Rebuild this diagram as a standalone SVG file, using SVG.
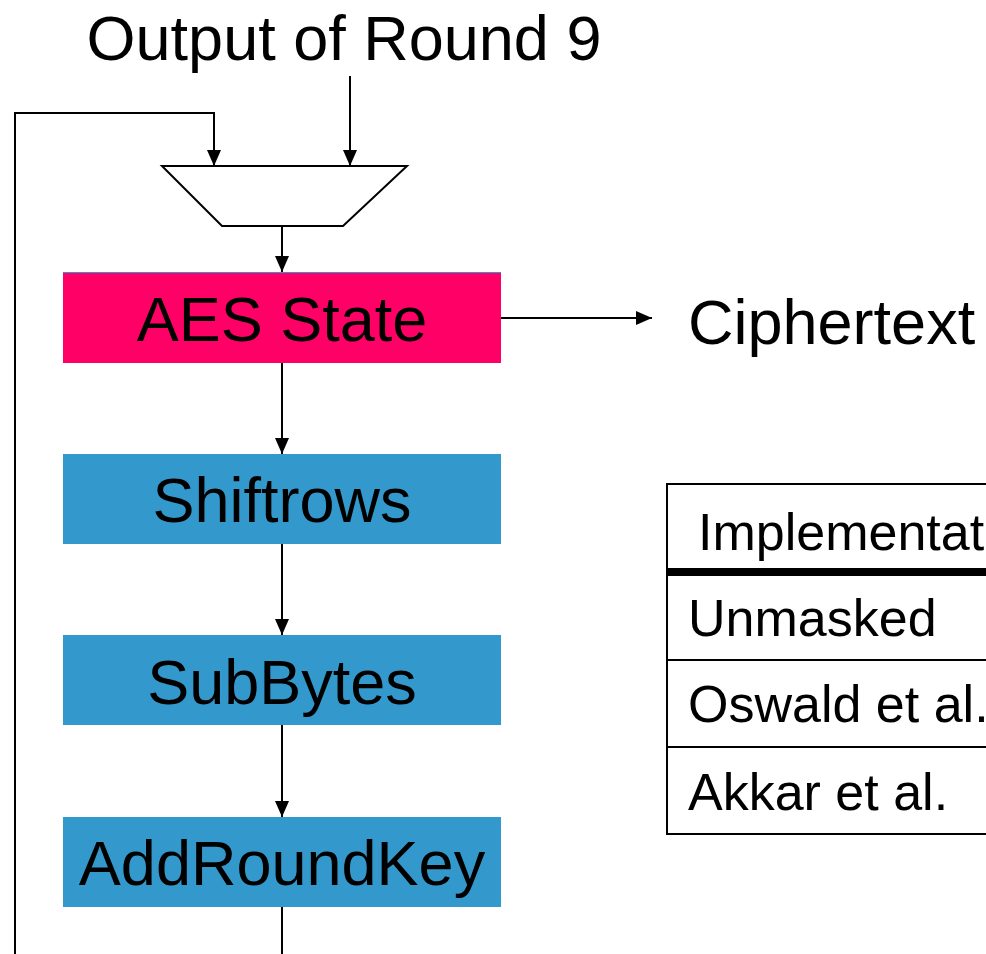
<svg xmlns="http://www.w3.org/2000/svg" width="986" height="954" viewBox="0 0 986 954">
  <style>
    text { font-family: "Liberation Sans", Arial, Helvetica, sans-serif; fill: #000; }
    .big { font-size: 63px; }
    .cell { font-size: 52px; }
    .wire { fill: none; stroke: #000; stroke-width: 2; }
    .stage { fill: #3399CC; }
    .grid { stroke: #000; stroke-width: 2; fill: none; }
    .grid.heavy { stroke-width: 8; }
  </style>
  <defs>
    <marker id="head" viewBox="0 0 16 14" refX="16" refY="7" markerWidth="16" markerHeight="14" markerUnits="userSpaceOnUse" orient="auto">
      <path d="M0,0 L16,7 L0,14 Z" fill="#000"/>
    </marker>
  </defs>

  <rect width="986" height="954" fill="#fff"/>

  <text id="input-label" class="big" x="344" y="60" text-anchor="middle">Output of Round 9</text>

  <!-- multiplexer selecting round input or feedback -->
  <g id="mux">
    <polygon points="162,166 407,166 343,226 222,226" fill="#fff" stroke="#000" stroke-width="2"/>
  </g>

  <g id="aes-state">
    <rect x="63" y="272" width="438" height="91" fill="#FF0066"/>
    <line x1="63" y1="272.5" x2="501" y2="272.5" stroke="#3399CC" stroke-width="1"/>
    <text class="big" x="282" y="341" text-anchor="middle">AES State</text>
  </g>

  <g id="shiftrows">
    <rect class="stage" x="63" y="454" width="438" height="90"/>
    <text class="big" x="282" y="522" text-anchor="middle">Shiftrows</text>
  </g>

  <g id="subbytes">
    <rect class="stage" x="63" y="635" width="438" height="90"/>
    <text class="big" x="282" y="704" text-anchor="middle">SubBytes</text>
  </g>

  <g id="addroundkey">
    <rect class="stage" x="63" y="817" width="438" height="90"/>
    <text class="big" x="282" y="885" text-anchor="middle">AddRoundKey</text>
  </g>

  <g id="ciphertext">
    <text class="big" x="688" y="344">Ciphertext</text>
  </g>

  <!-- comparison table, running off the right edge -->
  <g id="table">
    <rect x="667" y="484" width="330" height="350" fill="#fff" stroke="#000" stroke-width="2"/>
    <line class="grid heavy" x1="667" y1="572" x2="986" y2="572"/>
    <line class="grid" x1="667" y1="660" x2="986" y2="660"/>
    <line class="grid" x1="667" y1="747" x2="986" y2="747"/>
    <text class="cell" x="698" y="550">Implementation</text>
    <text class="cell" x="688" y="636">Unmasked</text>
    <text class="cell" x="688" y="722">Oswald et al.</text>
    <text class="cell" x="688" y="810">Akkar et al.</text>
  </g>

  <g id="connectors">
    <path class="wire" d="M350,76 V166" marker-end="url(#head)"/>
    <path class="wire" d="M282,954 V907"/>
    <path class="wire" d="M15,954 V113 H214 V166" marker-end="url(#head)"/>
    <path class="wire" d="M282,226 V272" marker-end="url(#head)"/>
    <path class="wire" d="M282,363 V454" marker-end="url(#head)"/>
    <path class="wire" d="M282,544 V635" marker-end="url(#head)"/>
    <path class="wire" d="M282,725 V817" marker-end="url(#head)"/>
    <path class="wire" d="M501,318 H652" marker-end="url(#head)"/>
  </g>
</svg>
